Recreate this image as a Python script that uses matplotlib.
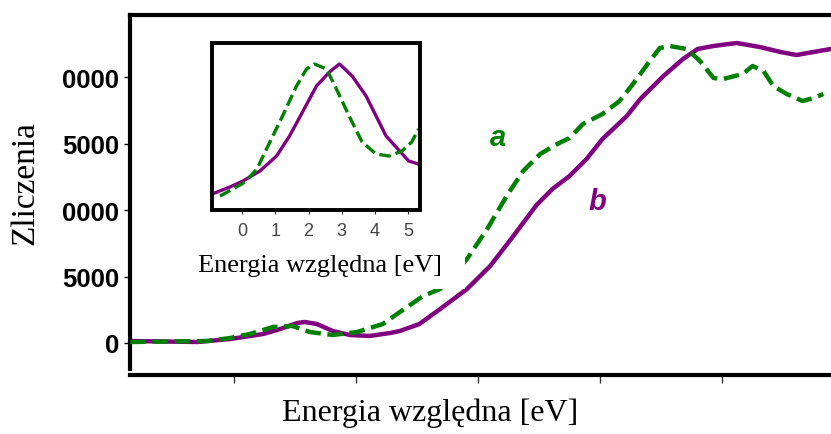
import matplotlib
matplotlib.use("Agg")
import matplotlib.pyplot as plt
from matplotlib.patches import Rectangle

# widmo glowne, probka a (linia przerywana) i b (linia ciagla)
energia_b = [-0.85, -0.30, -0.03, 0.24, 0.38, 0.52, 0.58, 0.68, 0.81, 0.95, 1.11, 1.28,
             1.36, 1.52, 1.69, 1.91, 2.10, 2.29, 2.48, 2.61, 2.75, 2.89, 3.02, 3.22,
             3.33, 3.52, 3.68, 3.80, 3.93, 4.12, 4.31, 4.48, 4.61, 4.75, 4.89]
zliczenia_b = [150, 75, 300, 677, 1053, 1504, 1579, 1429, 902, 602, 526, 752,
               902, 1429, 2556, 4060, 5789, 8045, 10376, 11579, 12556, 13835, 15338, 17068,
               18346, 20075, 21353, 22105, 22331, 22556, 22256, 21880, 21654, 21880, 22105]

energia_a = [-0.85, -0.22, -0.03, 0.13, 0.32, 0.48, 0.62, 0.81, 1.01, 1.22, 1.36, 1.55,
             1.69, 1.91, 2.08, 2.24, 2.37, 2.51, 2.65, 2.75, 2.86, 3.02, 3.16, 3.27,
             3.39, 3.49, 3.57, 3.71, 3.82, 3.93, 4.01, 4.17, 4.25, 4.34, 4.42, 4.53,
             4.66, 4.75, 4.83]
zliczenia_a = [75, 150, 376, 677, 1203, 1278, 827, 602, 827, 1429, 2331, 3534,
               4060, 6316, 8647, 11128, 12932, 14211, 14962, 15414, 16466, 17218, 18195, 19474,
               20977, 22180, 22331, 22105, 21203, 19925, 19850, 20226, 20827, 20451, 19323, 18722,
               18195, 18421, 18722]

# wstawka - powiekszenie obszaru przedkrawedziowego
ins_energia_b = [-0.90, -0.36, 0.03, 0.54, 1.04, 1.43, 1.82, 2.24, 2.63, 2.93, 3.31,
                 3.73, 4.03, 4.33, 4.63, 5.01, 5.31]
ins_int_b = [18, 25, 31, 41, 56, 76, 100, 126, 140, 148, 136, 116, 96, 76, 65, 51, 48]
ins_energia_a = [-0.66, -0.27, 0.09, 0.45, 0.84, 1.22, 1.64, 1.94, 2.18, 2.54, 2.84,
                 3.22, 3.61, 4.03, 4.42, 4.81, 5.10, 5.31]
ins_int_a = [16, 23, 30, 43, 70, 96, 126, 143, 148, 143, 123, 96, 70, 58, 56, 61, 70, 83]

y_ticks = [0, 5000, 10000, 15000, 20000]
y_labels = ["0", "5000", "0000", "5000", "0000"]
x_ticks = [0, 1, 2, 3, 4]
ins_x_ticks = [0, 1, 2, 3, 4, 5]

GREEN = "#008000"
PURPLE = "#800080"

fig = plt.figure(figsize=(8.31, 4.35), dpi=100)
ax = fig.add_axes([130/831, 1-370/435, 1-130/831, (370-16)/435])

ax.plot(energia_b, zliczenia_b, color=PURPLE, lw=3.2, zorder=2)
ax.plot(energia_a, zliczenia_a, color=GREEN, lw=3.2, dashes=(3.5, 1.5), zorder=3)
ax.set_xlim(-0.852, 4.893)
ax.set_ylim(-1955, 24662)

ax.spines['right'].set_visible(False)
for s in ['left', 'top', 'bottom']:
    ax.spines[s].set_linewidth(3)
ax.spines['bottom'].set_position(('outward', 4))

ax.set_yticks(y_ticks)
ax.set_yticklabels(y_labels, fontfamily="Liberation Sans", fontweight="bold", fontsize=18.5)
ax.tick_params(axis='y', length=4, width=1, pad=4)
ax.set_xticks(x_ticks)
ax.set_xticklabels([])
ax.tick_params(axis='x', length=6, width=1, color='#333333')

ax.text(2.16, 15500, "a", color=GREEN, fontsize=21, fontstyle="italic", fontweight="bold",
        fontfamily="Liberation Sans", ha="center", va="center")
ax.text(2.98, 10700, "b", color=PURPLE, fontsize=21, fontstyle="italic", fontweight="bold",
        fontfamily="Liberation Sans", ha="center", va="center")

fig.text(25/831, 1-183/435, "Zliczenia", rotation=90, fontfamily="Liberation Serif",
         fontsize=24, ha="center", va="center")
fig.text(430/831, 1-413/435, "Energia względna [eV]", fontfamily="Liberation Serif",
         fontsize=23, ha="center", va="center")

# biale tlo pod wstawka
ax.add_patch(Rectangle((195/831, 1-290/435), 270/831, 260/435, transform=fig.transFigure,
                       facecolor="white", edgecolor="none", zorder=5))

ins = fig.add_axes([212/831, 1-211/435, 208/831, 167/435])
ins.plot(ins_energia_b, ins_int_b, color=PURPLE, lw=2.4)
ins.plot(ins_energia_a, ins_int_a, color=GREEN, lw=2.4, dashes=(3.5, 1.5))
ins.set_xlim(-0.9, 5.35)
ins.set_ylim(2, 169)
for s in ins.spines.values():
    s.set_linewidth(2.8)
ins.set_yticks([])
ins.set_xticks(ins_x_ticks)
ins.set_xticklabels([str(t) for t in ins_x_ticks], fontfamily="Liberation Sans", fontsize=13,
                    color="#444444")
ins.tick_params(axis='x', length=3, width=0.8, pad=6, color='#333333')
fig.text(320/831, 1-266/435, "Energia względna [eV]", fontfamily="Liberation Serif",
         fontsize=19, ha="center", va="center")

fig.savefig("out.png", dpi=100)
